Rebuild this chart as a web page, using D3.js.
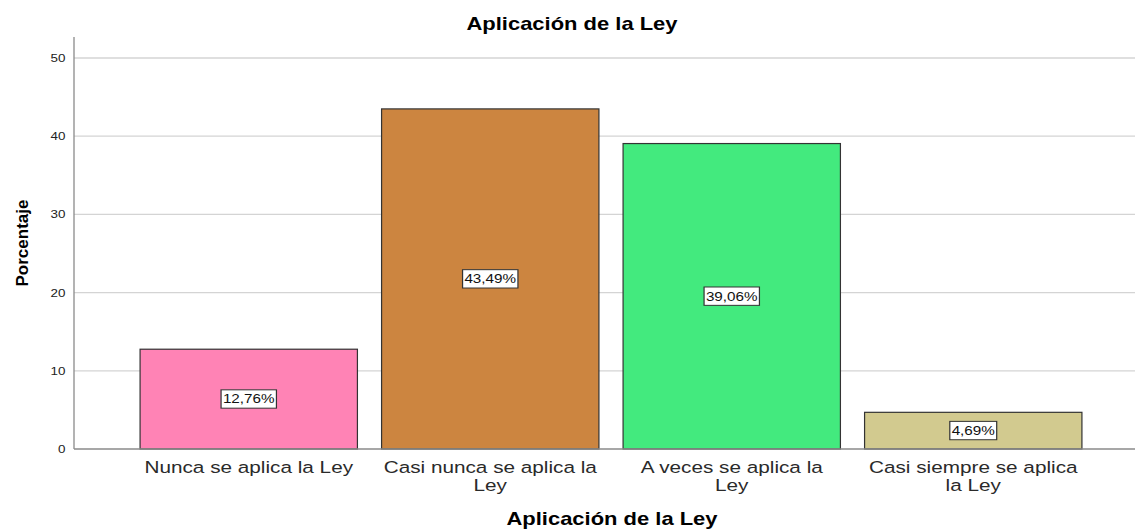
<!DOCTYPE html>
<meta charset="utf-8">
<script src="https://d3js.org/d3.v7.min.js"></script>
<style>
  body { margin: 0; background: #fff; }
  text { font-family: Arial, "Liberation Sans", sans-serif; }
</style>
<div id="chart"></div>
<script>

// data
var categories = ["Nunca se aplica la Ley", "Casi nunca se aplica la Ley", "A veces se aplica la Ley", "Casi siempre se aplica la Ley"];
var percents = [12.76, 43.49, 39.06, 4.69];
var barColors = ["#FF83B5", "#CC8540", "#43EA7E", "#D2CA8F"];
var yTicks = [0, 10, 20, 30, 40, 50];

var width = 1135, height = 529;
var margin = {top: 37, right: 0, bottom: 80, left: 74};
// the original export has its text widened a bit
var sx = 1.22;

var svg = d3.select("#chart")
  .append("svg")
    .attr("width", width)
    .attr("height", height);

var x = d3.scaleBand()
  .domain(categories)
  .range([128, 1094])
  .paddingInner(0.1)
  .paddingOuter(0.05);

var y = d3.scaleLinear()
  .domain([0, 50])
  .range([449, 58]);

// gridlines
svg.append("g")
  .selectAll("line")
  .data(yTicks.filter(function(d) { return d > 0; }))
  .enter()
  .append("line")
    .attr("x1", margin.left)
    .attr("x2", width)
    .attr("y1", function(d) { return y(d); })
    .attr("y2", function(d) { return y(d); })
    .style("stroke", "#d4d4d4")
    .style("stroke-width", 1.3);

// y axis
var yAxis = svg.append("g")
  .attr("transform", "translate(" + margin.left + ",0)")
  .call(d3.axisLeft(y).tickValues(yTicks).tickSize(0).tickPadding(7));
yAxis.select(".domain").remove();
yAxis.selectAll("text")
  .attr("transform", "scale(" + sx + ",1)")
  .style("font-size", "11px")
  .style("fill", "#222");
svg.append("line")
  .attr("x1", margin.left).attr("x2", margin.left)
  .attr("y1", margin.top).attr("y2", y(0))
  .style("stroke", "#8a8a8a")
  .style("stroke-width", 1.3);

// bars
svg.append("g")
  .selectAll("rect")
  .data(percents)
  .enter()
  .append("rect")
    .attr("x", function(d, i) { return x(categories[i]); })
    .attr("y", function(d) { return y(d); })
    .attr("width", x.bandwidth())
    .attr("height", function(d) { return y(0) - y(d); })
    .style("fill", function(d, i) { return barColors[i]; })
    .style("stroke", "#333")
    .style("stroke-width", 1.2);

// baseline
svg.append("line")
  .attr("x1", margin.left).attr("x2", width)
  .attr("y1", y(0)).attr("y2", y(0))
  .style("stroke", "#8a8a8a")
  .style("stroke-width", 1.3);

// value labels in boxes
var labels = svg.append("g")
  .selectAll("g")
  .data(percents)
  .enter()
  .append("g")
    .attr("transform", function(d, i) {
      return "translate(" + (x(categories[i]) + x.bandwidth() / 2) + "," + ((y(0) + y(d)) / 2) + ") scale(" + sx + ",1)";
    });
labels.append("text")
  .attr("text-anchor", "middle")
  .attr("dy", "0.35em")
  .style("font-size", "12.5px")
  .style("fill", "#111")
  .text(function(d) { return d.toFixed(2).replace(".", ",") + "%"; });
labels.each(function() {
  var g = d3.select(this);
  var bb = g.select("text").node().getBBox();
  g.insert("rect", "text")
    .attr("x", bb.x - 1.5)
    .attr("y", bb.y - 2)
    .attr("width", bb.width + 3)
    .attr("height", bb.height + 4)
    .style("fill", "#fff")
    .style("stroke", "#333")
    .style("stroke-width", 1);
});

// category labels, wrapped to the bar width
function wrap(text, w) {
  text.each(function() {
    var t = d3.select(this),
        words = t.text().split(/\s+/),
        line = [],
        tspan = t.text(null).append("tspan").attr("x", 0).attr("dy", 0);
    words.forEach(function(word) {
      line.push(word);
      tspan.text(line.join(" "));
      if (tspan.node().getComputedTextLength() * sx > w && line.length > 1) {
        line.pop();
        tspan.text(line.join(" "));
        line = [word];
        tspan = t.append("tspan").attr("x", 0).attr("dy", "1.05em").text(word);
      }
    });
  });
}

svg.append("g")
  .selectAll("text")
  .data(categories)
  .enter()
  .append("text")
    .attr("transform", function(d) { return "translate(" + (x(d) + x.bandwidth() / 2) + ",473) scale(" + sx + ",1)"; })
    .attr("text-anchor", "middle")
    .style("font-size", "17px")
    .style("fill", "#2a2a2a")
    .text(function(d) { return d; })
    .call(wrap, x.bandwidth() + 3);

// titles
svg.append("text")
  .attr("transform", "translate(572,30) scale(" + sx + ",1)")
  .attr("text-anchor", "middle")
  .style("font-size", "18px")
  .style("font-weight", "bold")
  .text("Aplicación de la Ley");

svg.append("text")
  .attr("transform", "translate(612,525) scale(" + sx + ",1)")
  .attr("text-anchor", "middle")
  .style("font-size", "18px")
  .style("font-weight", "bold")
  .text("Aplicación de la Ley");

svg.append("text")
  .attr("transform", "translate(28,243) rotate(-90)")
  .attr("text-anchor", "middle")
  .style("font-size", "17px")
  .style("font-weight", "bold")
  .text("Porcentaje");

</script>
